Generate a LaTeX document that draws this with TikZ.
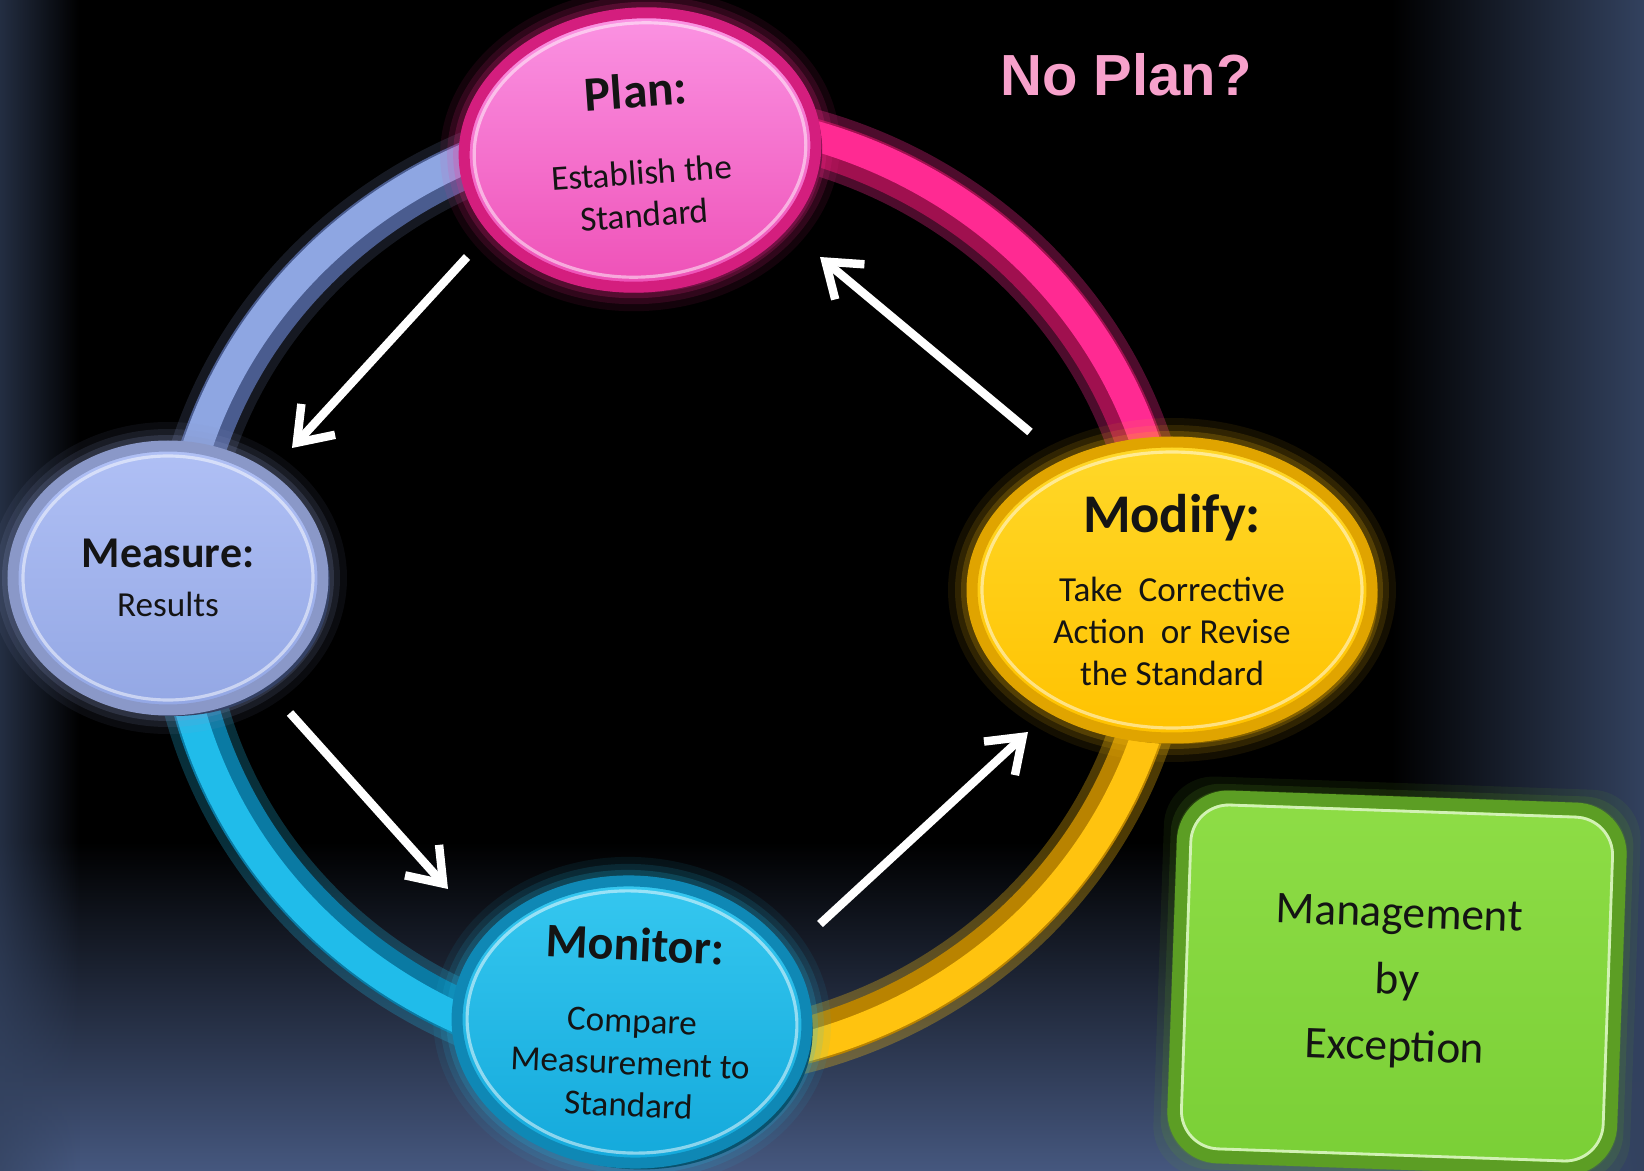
\documentclass[tikz,border=0pt]{standalone}
\usepackage{fontspec}
\setmainfont{Carlito}
\newfontfamily\npfont{Liberation Sans}
\usetikzlibrary{shapes.geometric,arrows.meta,fadings}
\definecolor{bgbot}{HTML}{46587F}
\definecolor{bgside}{HTML}{33425F}
\definecolor{ringblue}{HTML}{8EA6E2}
\definecolor{ringblued}{HTML}{4A5C8F}
\definecolor{ringpink}{HTML}{FF2A92}
\definecolor{ringpinkd}{HTML}{A0104F}
\definecolor{ringyel}{HTML}{FFC30F}
\definecolor{ringyeld}{HTML}{B98300}
\definecolor{ringcyan}{HTML}{20BCEA}
\definecolor{ringcyand}{HTML}{0A7AA3}
\definecolor{plantop}{HTML}{FB95E4}
\definecolor{planbot}{HTML}{EE4FB6}
\definecolor{planrim}{HTML}{D41E7E}
\definecolor{meastop}{HTML}{B0C0F5}
\definecolor{measbot}{HTML}{93A7E4}
\definecolor{measrim}{HTML}{8A98C8}
\definecolor{modtop}{HTML}{FFD829}
\definecolor{modbot}{HTML}{FFC200}
\definecolor{modrim}{HTML}{E0A400}
\definecolor{montop}{HTML}{36C8F0}
\definecolor{monbot}{HTML}{14A9DB}
\definecolor{monrim}{HTML}{0F88B5}
\definecolor{boxtop}{HTML}{8EDD46}
\definecolor{boxbot}{HTML}{7ACF36}
\definecolor{boxrim}{HTML}{5C9E24}
\definecolor{noplan}{HTML}{F7A1CB}
\tikzfading[name=fadeup, top color=transparent!100, bottom color=transparent!0]
\tikzfading[name=faderight, left color=transparent!100, right color=transparent!0]
\tikzfading[name=fadeleft, left color=transparent!0, right color=transparent!100]
% ring segment: start, end, main colour, dark colour, glow opacity
\newcommand\ringseg[5]{%
  \draw[#3, line width=0.64cm, opacity=#5] (6.72,5.81) ++(#1:4.92cm and 4.68cm)
    arc[start angle=#1, end angle=#2, x radius=4.92cm, y radius=4.68cm];
  \draw[#4, line width=0.46cm] (6.72,5.81) ++(#1:4.92cm and 4.68cm)
    arc[start angle=#1, end angle=#2, x radius=4.92cm, y radius=4.68cm];
  \draw[#3, line width=0.30cm] (6.72,5.81) ++(#1:4.98cm and 4.74cm)
    arc[start angle=#1, end angle=#2, x radius=4.98cm, y radius=4.74cm];
}
% glow around an ellipse: x, y, rx, ry, colour, rotation
\newcommand\glowell[6]{%
  \foreach \g/\o in {0.24/0.08,0.17/0.12,0.11/0.18,0.05/0.25}{%
    \pgfmathsetmacro\gx{#3+\g}\pgfmathsetmacro\gy{#4+\g}%
    \fill[#5, opacity=\o, rotate around={#6:(#1,#2)}] (#1,#2) ellipse [x radius=\gx, y radius=\gy];}}
\tikzset{
  bubble/.style={ellipse, inner sep=0pt, align=center, text=black!92, line width=0.11cm},
  arr/.style={white, line width=2.4pt, -{Straight Barb[length=9pt,width=13pt]}},
  hilite/.style={white, opacity=.5, line width=0.9pt},
}
\begin{document}
\begin{tikzpicture}
\useasboundingbox (0,0) rectangle (16.44,11.71);
% background
\fill[black] (0,0) rectangle (16.44,11.71);
\fill[bgbot, path fading=fadeup] (0,0) rectangle (16.44,3.3);
\fill[bgside, path fading=faderight] (13.9,0) rectangle (16.44,11.71);
\fill[bgside, path fading=fadeleft, opacity=.7] (0,0) rectangle (0.8,11.71);

% ring
\ringseg{90}{180}{ringblue}{ringblued}{0.15}
\ringseg{180}{270}{ringcyan}{ringcyand}{0.25}
\ringseg{270}{360}{ringyel}{ringyeld}{0.3}
\ringseg{0}{90}{ringpink}{ringpinkd}{0.3}

% Plan
\glowell{6.40}{10.21}{1.76}{1.37}{ringpink}{4}
\fill[planrim!55!black, rotate around={4:(6.40,10.21)}] (6.46,10.15) ellipse [x radius=1.76, y radius=1.37];
\node[bubble, rotate=4, minimum width=3.52cm, minimum height=2.74cm,
  top color=plantop, bottom color=planbot, draw=planrim] (plan) at (6.40,10.21)
  {\fontsize{9.8pt}{10pt}\selectfont{\fontsize{14pt}{14pt}\selectfont\bfseries Plan:}\\[10pt]Establish the\\Standard};
\draw[hilite, rotate around={4:(6.40,10.21)}] (6.40,10.21) ellipse [x radius=1.66, y radius=1.27];

% Measure
\glowell{1.68}{5.93}{1.55}{1.32}{measrim}{0}
\fill[ringblued!70!black] (1.75,5.87) ellipse [x radius=1.55, y radius=1.32];
\node[bubble, minimum width=3.10cm, minimum height=2.64cm,
  top color=meastop, bottom color=measbot, draw=measrim] (measure) at (1.68,5.93)
  {\fontsize{8.5pt}{10pt}\selectfont{\fontsize{12.5pt}{12pt}\selectfont\bfseries Measure:}\\[2pt]Results};
\draw[hilite] (1.68,5.93) ellipse [x radius=1.45, y radius=1.22];

% Modify
\glowell{11.72}{5.81}{2.0}{1.48}{ringyel}{0}
\fill[modrim!60!black] (11.78,5.75) ellipse [x radius=2.0, y radius=1.48];
\node[bubble, minimum width=4.0cm, minimum height=2.96cm,
  top color=modtop, bottom color=modbot, draw=modrim] (modify) at (11.72,5.81)
  {\fontsize{10.9pt}{12.2pt}\selectfont{\fontsize{15.5pt}{15pt}\selectfont\bfseries Modify:}\\[7.8pt]Take\ \ Corrective\\Action\ \ or Revise\\the Standard};
\draw[hilite] (11.72,5.81) ellipse [x radius=1.90, y radius=1.38];

% Monitor
\glowell{6.32}{1.49}{1.75}{1.41}{ringcyan}{-3}
\fill[monrim!60!black, rotate around={-3:(6.32,1.49)}] (6.38,1.43) ellipse [x radius=1.75, y radius=1.41];
\node[bubble, rotate=-2.5, minimum width=3.5cm, minimum height=2.82cm,
  top color=montop, bottom color=monbot, draw=monrim] (monitor) at (6.32,1.49)
  {\fontsize{9.5pt}{12.2pt}\selectfont{\fontsize{13.7pt}{14pt}\selectfont\bfseries Monitor:}\\[8.4pt]Compare\\Measurement to\\Standard};
\draw[hilite, rotate around={-3:(6.32,1.49)}] (6.32,1.49) ellipse [x radius=1.65, y radius=1.31];

% arrows
\coordinate (a1s) at (4.67,9.14);  \coordinate (a1e) at (2.92,7.23);
\coordinate (a2s) at (2.90,4.58);  \coordinate (a2e) at (4.48,2.82);
\coordinate (a3s) at (8.20,2.47);  \coordinate (a3e) at (10.28,4.39);
\coordinate (a4s) at (10.30,7.39); \coordinate (a4e) at (8.20,9.14);
\draw[arr] (a1s) -- (a1e);
\draw[arr] (a2s) -- (a2e);
\draw[arr] (a3s) -- (a3e);
\draw[arr] (a4s) -- (a4e);

% Management by Exception
\foreach \g/\o in {0.20/0.10,0.13/0.16,0.07/0.24}{%
  \pgfmathsetmacro\gw{4.37+2*\g}\pgfmathsetmacro\gh{3.6+2*\g}%
  \node[rectangle, rounded corners=0.5cm, rotate=-2, minimum width=\gw cm, minimum height=\gh cm,
    fill=boxrim, opacity=\o, inner sep=0pt] at (13.97,1.88) {};}
\node[rectangle, rounded corners=0.45cm, rotate=-2, minimum width=4.37cm, minimum height=3.6cm,
  top color=boxtop, bottom color=boxbot, draw=boxrim, line width=0.13cm, align=center,
  inner sep=0pt, text=black!92, font=\fontsize{12.9pt}{19pt}\selectfont] (mbe) at (13.97,1.88)
  {Management\\by\\Exception};
\draw[white!60!boxtop, line width=0.8pt, rounded corners=0.38cm, rotate around={-2:(13.97,1.88)}]
  (11.86,0.16) rectangle (16.08,3.60);

% No Plan?
\node[text=noplan, font=\npfont\bfseries\fontsize{16.5pt}{18pt}\selectfont, inner sep=0pt] (noplan) at (11.26,10.96) {No Plan?};
\end{tikzpicture}
\end{document}
